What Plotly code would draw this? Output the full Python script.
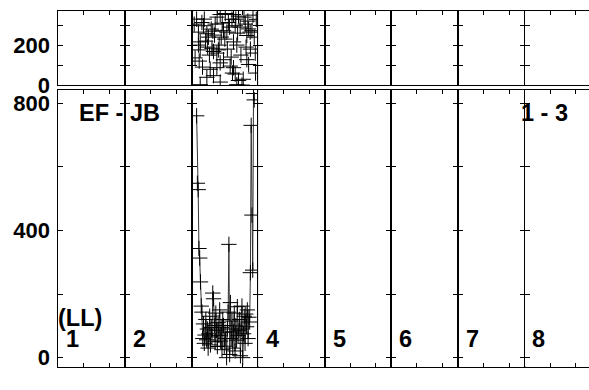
import plotly.graph_objects as go

# ---------------- data ----------------
if_labels = ["1", "2", "3", "4", "5", "6", "7", "8"]
baseline_label = "EF - JB"
channel_label = "1 - 3"
pol_label = "(LL)"
data_if = 3  # only IF 3 has data

# time in minutes from start of the column window (window = 26 min)
amp_time = [2.0, 2.3, 2.6, 2.9, 3.2, 3.5, 3.8, 4.1, 4.4, 4.7, 5.0, 5.3, 5.6, 5.9, 6.2,
            6.5, 6.8, 7.1, 7.4, 7.7, 8.0, 8.3, 8.6, 8.9, 9.2, 9.5, 9.8, 10.1, 10.4,
            10.7, 11.0, 11.3, 11.6, 11.9, 12.2, 12.5, 12.8, 13.1, 13.4, 13.7, 14.0,
            14.3, 14.6, 14.9, 15.2, 15.5, 15.8, 16.1, 16.4, 16.7, 17.0, 17.3, 17.6,
            17.9, 18.2, 18.5, 18.8, 19.1, 19.4, 19.7, 20.0, 20.3, 20.6, 20.9, 21.2,
            21.5, 21.8, 22.1, 22.4, 22.7, 23.0, 23.3, 23.6, 23.9, 24.2, 24.5]
amp_vals = [760, 548, 528, 343, 313, 238, 162, 143, 60, 106, 45, 71, 120, 56, 90,
            30, 75, 130, 40, 95, 65, 203, 185, 101, 50, 140, 86, 35, 110,
            70, 150, 52, 95, 25, 120, 101, 36, 80, 60, 0, 90,
            143, 356, 10, 173, 60, 115, 30, 81, 140, 21, 100, 55,
            160, 70, 86, 120, 6, 90, 162, 0, 75, 130, 45, 137,
            97, 150, 60, 127, 112, 267, 730, 448, 275, 830, 810]

phase_time = [1.05, 1.4, 2.0, 2.7, 2.7, 3.0, 3.4, 3.4, 3.4, 4.06, 4.3, 4.7, 5.0, 5.5,
              6.0, 6.0, 6.3, 6.6, 7.0, 7.3, 7.7, 8.0, 8.3, 8.6, 8.6, 9.0, 9.25, 9.9,
              9.9, 10.0, 10.5, 10.8, 11.2, 11.2, 11.2, 11.6, 12.0, 12.5, 12.5, 13.0,
              13.2, 13.8, 14.0, 14.4, 14.8, 15.1, 15.5, 15.8, 16.0, 16.4, 16.4, 16.4,
              17.06, 17.06, 17.3, 17.7, 17.7, 18.0, 18.35, 18.35, 19.0, 19.3, 19.7,
              20.2, 20.5, 21.0, 21.3, 21.6, 21.6, 22.0, 22.3, 22.3, 22.9, 23.0, 23.6,
              24.0, 24.5, 24.9, 25.0, 25.3]
phase_vals = [305, 136, 330, 265, 200, 120, 216, 176, 2, 313, 90, 297, 330, 220,
              257, 39, 190, 240, 150, 79, 280, 184, 270, 168, 47, 250, 305, 160,
              87, 340, 176, 200, 353, 111, 15, 240, 310, 272, 127, 230,
              358, 265, 180, 313, 290, 95, 140, 329, 60, 353, 216, 87,
              297, 55, 330, 200, 2, 260, 345, 23, 290, 150, 0,
              29, 340, 305, 190, 127, 248, 320, 281, 103, 265, 180, 272,
              350, 240, 160, 60, 329]

amp_ticks = [0, 200, 400, 600, 800]
amp_ticktext = ["0", "", "400", "", "800"]
phase_ticks = [0, 100, 200, 300]
phase_ticktext = ["0", "", "200", ""]
time_ticks = [10, 20]
window_minutes = 26

# ---------------- layout geometry ----------------
W, H = 589, 390
left_px = 58.3
col_px = 66.6
top_y0, top_y1 = 11.0, 88.0      # pixel rows of phase panel
bot_y0, bot_y1 = 92.7, 379.3     # pixel rows of amplitude panel
phase_range = [0, 372.5]
amp_range = [-28.3, 842.3]

font_family = "Liberation Sans, Arial, sans-serif"
fig = go.Figure()

layout = dict(
    width=W, height=H, autosize=False,
    margin=dict(l=0, r=0, t=0, b=0),
    paper_bgcolor="white", plot_bgcolor="white",
    showlegend=False,
    font=dict(family=font_family, size=22, color="black", weight="bold"),
)

axis_common = dict(showgrid=False, zeroline=False, showline=True, linecolor="black",
                   linewidth=1, ticks="inside", tickcolor="black", tickwidth=1)

for c in range(8):
    x0 = left_px + c * col_px
    x1 = min(x0 + col_px, W)
    frac = (x1 - x0) / col_px
    dom_x = [x0 / W, x1 / W]
    last = (c == 7)
    for n, (ya, yb), yr, ytv, ytt, is_top in [
        (c + 1, (top_y0, top_y1), phase_range, phase_ticks, phase_ticktext, True),
        (c + 9, (bot_y0, bot_y1), amp_range, amp_ticks, amp_ticktext, False),
    ]:
        xk = "xaxis" if n == 1 else f"xaxis{n}"
        yk = "yaxis" if n == 1 else f"yaxis{n}"
        layout[xk] = dict(axis_common, domain=dom_x, anchor=f"y{n}" if n > 1 else "y",
                          range=[0, window_minutes * frac], tickvals=time_ticks,
                          ticklen=4, showticklabels=False,
                          side="top" if is_top else "bottom",
                          mirror=True if is_top else "ticks")
        layout[yk] = dict(axis_common, domain=[1 - yb / H, 1 - ya / H],
                          anchor=f"x{n}" if n > 1 else "x",
                          range=yr, tickvals=ytv, ticktext=ytt, ticklen=5,
                          showticklabels=(c == 0), ticklabelstandoff=3,
                          tickfont=dict(size=22, weight="bold"),
                          mirror=False if last else "ticks")
        # empty trace so every panel is registered and drawn
        fig.add_trace(go.Scatter(x=[None], y=[None], mode="markers",
                                 xaxis="x" if n == 1 else f"x{n}",
                                 yaxis="y" if n == 1 else f"y{n}",
                                 hoverinfo="skip", showlegend=False))

fig.update_layout(**layout)

# data traces (IF 3)
nt = data_if
nb = data_if + 8
cross = dict(symbol="cross-thin", size=11, line=dict(width=1, color="black"), color="black")
fig.add_trace(go.Scatter(x=phase_time, y=phase_vals, mode="markers",
                         xaxis=f"x{nt}", yaxis=f"y{nt}", marker=cross))
fig.add_trace(go.Scatter(x=amp_time, y=amp_vals, mode="lines+markers",
                         xaxis=f"x{nb}", yaxis=f"y{nb}",
                         line=dict(color="#333333", width=1), marker=cross))

ann_font = dict(family=font_family, size=23.5, color="black", weight="bold")
anns = []
for c, lab in enumerate(if_labels):
    if c + 1 == data_if:
        continue  # hidden behind the data in the original
    n = c + 9
    anns.append(dict(text=lab, xref=f"x{n} domain", x=0, xanchor="left", xshift=7,
                     yref=f"y{n}", y=58, yanchor="middle", showarrow=False,
                     font=ann_font, borderpad=0))
anns.append(dict(text=pol_label, xref="x9 domain", x=0, xanchor="left", xshift=-1,
                 yref="y9", y=126, yanchor="middle", showarrow=False,
                 font=ann_font, borderpad=0))
anns.append(dict(text=baseline_label, xref="x9 domain", x=0, xanchor="left", xshift=20,
                 yref="y9", y=770, yanchor="middle", showarrow=False,
                 font=ann_font, borderpad=0))
anns.append(dict(text=channel_label, xref="x16 domain", x=1, xanchor="right", xshift=-20,
                 yref="y16", y=770, yanchor="middle", showarrow=False,
                 font=ann_font, borderpad=0))
fig.update_layout(annotations=anns)

page_css = ("document.documentElement.style.margin='0';"
            "document.body.style.margin='0';")
fig.write_html("out.html", post_script=page_css,
               config={"displayModeBar": False, "responsive": False})
